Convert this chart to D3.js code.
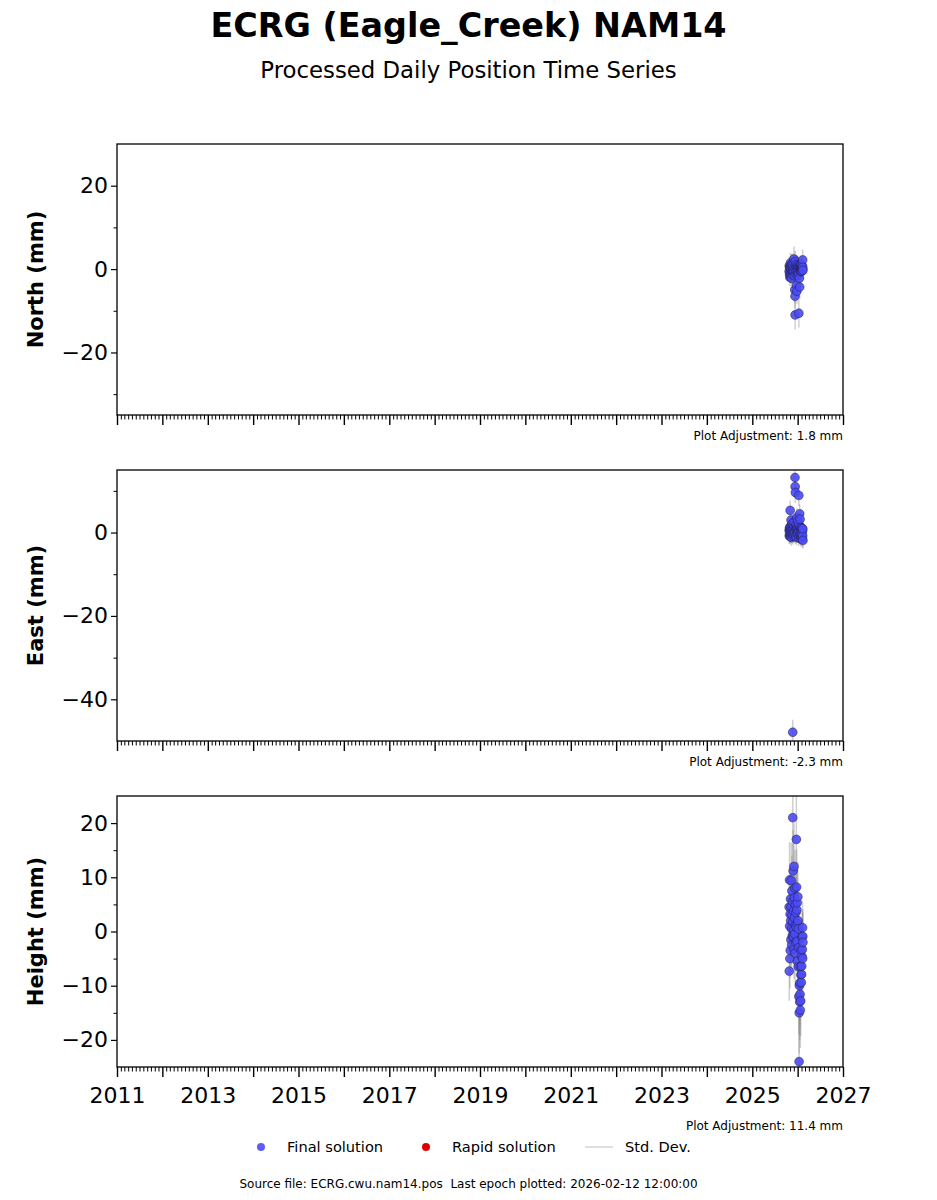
<!DOCTYPE html>
<html><head><meta charset="utf-8">
<script src="https://cdn.jsdelivr.net/npm/d3@7"></script>
<style>body{margin:0;background:#fff;} svg{display:block;font-family:"DejaVu Sans",sans-serif;}</style>
</head><body>
<script>
const title = "ECRG (Eagle_Creek) NAM14";
const subtitle = "Processed Daily Position Time Series";
const dates = ["2025-10-24","2025-10-25","2025-10-27","2025-10-28","2025-10-30",
"2025-11-01","2025-11-02","2025-11-04","2025-11-05","2025-11-07","2025-11-08","2025-11-10","2025-11-12","2025-11-13","2025-11-15","2025-11-17","2025-11-18","2025-11-20","2025-11-22","2025-11-23","2025-11-25","2025-11-27","2025-11-28","2025-11-30",
"2025-12-02","2025-12-03","2025-12-05","2025-12-06","2025-12-08","2025-12-10","2025-12-11","2025-12-13","2025-12-15","2025-12-16","2025-12-18","2025-12-20","2025-12-21","2025-12-23","2025-12-25","2025-12-26","2025-12-28","2025-12-30","2025-12-31",
"2026-01-02","2026-01-03","2026-01-05","2026-01-07","2026-01-08","2026-01-10","2026-01-12","2026-01-13","2026-01-15","2026-01-17","2026-01-18","2026-01-20","2026-01-22","2026-01-23","2026-01-25","2026-01-27","2026-01-28","2026-01-30",
"2026-02-01","2026-02-02","2026-02-04","2026-02-05","2026-02-07","2026-02-09","2026-02-10","2026-02-11","2026-02-12"];
const north = [-0.5,0.8,-1.2,0.3,-2.0,
0.5,-1.5,1.5,-0.8,0.2,-1.8,1.0,-0.3,-2.2,0.6,-1.0,1.2,-0.6,0.0,-1.4,0.9,-0.2,1.6,-0.9,
2.4,-0.5,0.4,-1.6,-5.0,-6.5,-11.0,1.8,0.2,-0.8,1.1,-1.3,0.6,-3.9,-5.3,0.3,-0.7,1.0,-1.5,
0.2,-0.4,0.8,-1.1,0.5,-10.6,-0.9,0.4,-2.2,-4.3,0.7,-0.3,0.9,-0.6,0.3,0.6,-0.4,1.0,
-0.2,0.5,-0.5,0.2,0.8,-0.1,2.2,0.4,-0.3];
const east = [0.5,-0.8,1.2,-0.3,0.9,
5.3,-1.0,0.4,1.5,-0.6,3.0,0.2,-1.2,0.8,1.8,-0.4,0.6,2.2,-47.9,-0.9,1.0,0.1,-0.5,1.6,
0.3,2.5,-0.7,1.1,0.0,13.2,11.0,9.6,1.4,-0.8,0.6,2.0,-1.1,0.9,3.6,0.2,1.3,-0.5,0.7,
2.8,-0.2,1.0,0.4,-1.3,8.9,1.9,0.3,-0.9,4.5,1.2,3.2,-0.4,0.8,-1.5,0.5,-0.7,1.1,
-1.2,0.6,-0.3,1.0,-1.6,0.4,-0.8,0.9,-1.9];
const height = [4.5,-7.3,9.5,1.0,-5.0,
3.2,-3.5,6.0,2.0,-1.5,4.6,9.4,0.5,-2.5,7.5,3.0,-0.8,5.5,21.0,1.8,11.2,-1.0,3.8,0.2,
12.0,-3.2,6.2,2.5,-0.5,8.0,-4.0,5.0,1.2,-2.0,3.5,0.8,17.0,8.2,4.0,-1.8,5.3,-5.5,1.5,
6.4,2.0,-6.5,0.5,-3.0,-12.0,-24.0,-15.0,-10.0,-13.0,-9.5,-11.6,-14.5,-6.5,-12.8,-8.0,-3.5,-9.4,
-7.9,-6.4,-4.6,-1.0,-3.3,0.7,-5.0,-0.9,-2.0];
const northSig = [2.0,2.2,1.8,2.5,2.1,
2.0,1.9,2.4,2.0,2.2,1.8,2.6,2.0,2.3,1.9,2.1,2.5,2.0,1.8,2.2,2.4,2.0,2.1,1.9,
3.0,2.0,2.2,2.4,3.2,3.0,3.5,2.6,2.0,2.1,2.3,2.0,2.2,2.8,3.0,2.0,2.1,2.3,2.0,
2.1,2.0,2.2,1.9,2.0,3.4,2.1,2.0,2.4,2.8,2.0,2.1,1.9,2.0,2.2,2.0,1.8,2.1,
2.0,1.9,2.1,2.0,2.2,1.9,2.5,2.0,2.1];
const eastSig = [1.8,2.0,1.6,2.1,1.9,
2.4,1.8,2.0,1.7,1.9,2.2,1.8,2.0,1.9,2.1,1.8,1.7,2.0,3.0,1.9,2.0,1.8,1.9,2.0,
1.8,2.1,1.9,2.0,1.8,2.8,2.6,2.5,2.0,1.9,1.8,2.0,1.9,2.0,2.2,1.8,1.9,2.0,1.8,
2.1,1.9,2.0,1.8,1.9,2.6,2.0,1.8,1.9,2.3,1.9,2.1,1.8,2.0,1.9,1.8,2.0,1.9,
1.8,2.0,1.9,1.8,2.0,1.9,1.8,2.0,1.9];
const heightSig = [6.0,5.5,7.0,5.0,5.5,
6.0,5.0,6.5,5.5,5.0,6.0,7.0,5.5,5.0,6.5,5.5,5.0,6.0,9.0,5.5,7.5,5.0,6.0,5.5,
8.0,5.5,6.5,6.0,5.5,7.0,6.0,6.5,5.5,5.0,6.0,5.5,9.0,7.0,6.0,5.5,6.5,6.0,5.5,
6.5,5.5,6.0,5.0,5.5,7.0,8.0,7.5,6.5,7.0,6.5,6.0,7.0,5.5,6.5,6.0,5.5,6.0,
5.5,6.0,5.5,5.0,5.5,5.0,6.0,5.0,5.5];
const panels = [
  {label:"North (mm)", values:north, sig:northSig, domain:[-35,30], major:[-20,0,20], minor:[-30,-10,10], adj:"Plot Adjustment: 1.8 mm"},
  {label:"East (mm)", values:east, sig:eastSig, domain:[-50,15], major:[-40,-20,0], minor:[-30,-10,10], adj:"Plot Adjustment: -2.3 mm"},
  {label:"Height (mm)", values:height, sig:heightSig, domain:[-25,25], major:[-20,-10,0,10,20], minor:[-15,-5,5,15], adj:"Plot Adjustment: 11.4 mm"}
];
const xMajorYears = [2011,2012,2013,2014,2015,2016,2017,2018,2019,2020,2021,2022,2023,2024,2025,2026,2027];
const xLabelYears = [2011,2013,2015,2017,2019,2021,2023,2025,2027];
const legendItems = ["Final solution","Rapid solution","Std. Dev."];
const sourceText = "Source file: ECRG.cwu.nam14.pos  Last epoch plotted: 2026-02-12 12:00:00";

const W = 937, H = 1200;
const L = 117, R = 843;
const tops = [144, 470, 796], PH = 271;
const svg = d3.select("body").append("svg").attr("width", W).attr("height", H);

const parse = d3.utcParse("%Y-%m-%d");
const dts = dates.map(d => d3.utcHour.offset(parse(d), 12));
const x = d3.scaleUtc().domain([new Date(Date.UTC(2011,0,1)), new Date(Date.UTC(2027,0,1))]).range([L, R]);
const minus = s => s.replace(/-/g, "\u2212");

svg.append("text").attr("x", 468.5).attr("y", 37).attr("text-anchor","middle")
  .attr("font-size", 33.4).attr("font-weight","bold").text(title);
svg.append("text").attr("x", 468.5).attr("y", 78).attr("text-anchor","middle")
  .attr("font-size", 22.8).text(subtitle);

const monthTicks = d3.utcMonth.range(x.domain()[0], d3.utcDay.offset(x.domain()[1],1)).filter(d => d.getUTCMonth() !== 0);
const yearTicks = xMajorYears.map(yy => new Date(Date.UTC(yy,0,1)));

panels.forEach((p, i) => {
  const top = tops[i], bot = top + PH;
  const y = d3.scaleLinear().domain(p.domain).range([bot, top]);
  const g = svg.append("g");
  const clipId = "clip" + i;
  svg.append("clipPath").attr("id", clipId).append("rect").attr("x", L).attr("y", top).attr("width", R-L).attr("height", PH);
  const data = p.values.map((v, k) => ({t: dts[k], v, s: p.sig[k]}));
  const dg = g.append("g").attr("clip-path", `url(#${clipId})`);
  dg.selectAll("line.err").data(data).join("line").attr("class","err")
    .attr("x1", d => x(d.t)).attr("x2", d => x(d.t))
    .attr("y1", d => y(d.v - d.s)).attr("y2", d => y(d.v + d.s))
    .attr("stroke", "#8a8a8a").attr("stroke-opacity", 0.4).attr("stroke-width", 1.5);
  dg.selectAll("circle").data(data).join("circle")
    .attr("cx", d => x(d.t)).attr("cy", d => y(d.v)).attr("r", 4.4)
    .attr("fill", "#4b4bf5").attr("fill-opacity", 0.9)
    .attr("stroke", "#1a1a40").attr("stroke-width", 0.5);

  // y axis
  const ya = d3.axisLeft(y).tickValues(p.major).tickSize(6).tickPadding(3).tickFormat(d => minus(String(d)));
  const yag = g.append("g").attr("transform", `translate(${L},0)`).call(ya);
  yag.select(".domain").remove();
  yag.selectAll("text").attr("font-size", 22).attr("font-family","DejaVu Sans").attr("fill","#000");
  yag.selectAll("line").attr("stroke","#000").attr("stroke-width",1.2);
  const yam = d3.axisLeft(y).tickValues(p.minor).tickSize(3.5).tickFormat("");
  const ymg = g.append("g").attr("transform", `translate(${L},0)`).call(yam);
  ymg.select(".domain").remove();
  ymg.selectAll("line").attr("stroke","#000").attr("stroke-width",1);

  // x axis
  const xa = d3.axisBottom(x).tickValues(yearTicks).tickSize(10).tickPadding(10)
    .tickFormat(d => (i === 2 && xLabelYears.includes(d.getUTCFullYear())) ? d.getUTCFullYear() : "");
  const xag = g.append("g").attr("transform", `translate(0,${bot})`).call(xa);
  xag.select(".domain").remove();
  xag.selectAll("text").attr("font-size", 22).attr("font-family","DejaVu Sans").attr("fill","#000");
  xag.selectAll("line").attr("stroke","#000").attr("stroke-width",1.4);
  const xm = d3.axisBottom(x).tickValues(monthTicks).tickSize(4.5).tickFormat("");
  const xmg = g.append("g").attr("transform", `translate(0,${bot})`).call(xm);
  xmg.select(".domain").remove();
  xmg.selectAll("line").attr("stroke","#000").attr("stroke-width",1);

  g.append("rect").attr("x", L).attr("y", top).attr("width", R-L).attr("height", PH)
    .attr("fill","none").attr("stroke","#000").attr("stroke-width",1.3);

  g.append("text").attr("transform", `translate(43,${top + PH/2}) rotate(-90)`)
    .attr("text-anchor","middle").attr("font-size", 21).attr("font-weight","bold").text(p.label);

  const adjY = i === 2 ? 1130 : bot + 25;
  g.append("text").attr("x", R).attr("y", adjY).attr("text-anchor","end").attr("font-size", 12).text(p.adj);
});

// legend
const lg = svg.append("g");
const ly = 1147;
lg.append("circle").attr("cx", 261).attr("cy", ly).attr("r", 4).attr("fill", "#4b4bf5").attr("fill-opacity",0.9);
lg.append("text").attr("x", 287).attr("y", ly + 5).attr("font-size", 14.6).text(legendItems[0]);
lg.append("circle").attr("cx", 426).attr("cy", ly).attr("r", 4).attr("fill", "#e00000");
lg.append("text").attr("x", 452).attr("y", ly + 5).attr("font-size", 14.6).text(legendItems[1]);
lg.append("line").attr("x1", 585).attr("x2", 613).attr("y1", ly).attr("y2", ly).attr("stroke", "#d4d4d4").attr("stroke-width", 1.5);
lg.append("text").attr("x", 625).attr("y", ly + 5).attr("font-size", 14.6).text(legendItems[2]);

svg.append("text").attr("x", 468.5).attr("y", 1188).attr("text-anchor","middle").attr("font-size", 12)
  .attr("xml:space","preserve").style("white-space","pre").text(sourceText);
</script>
</body></html>
